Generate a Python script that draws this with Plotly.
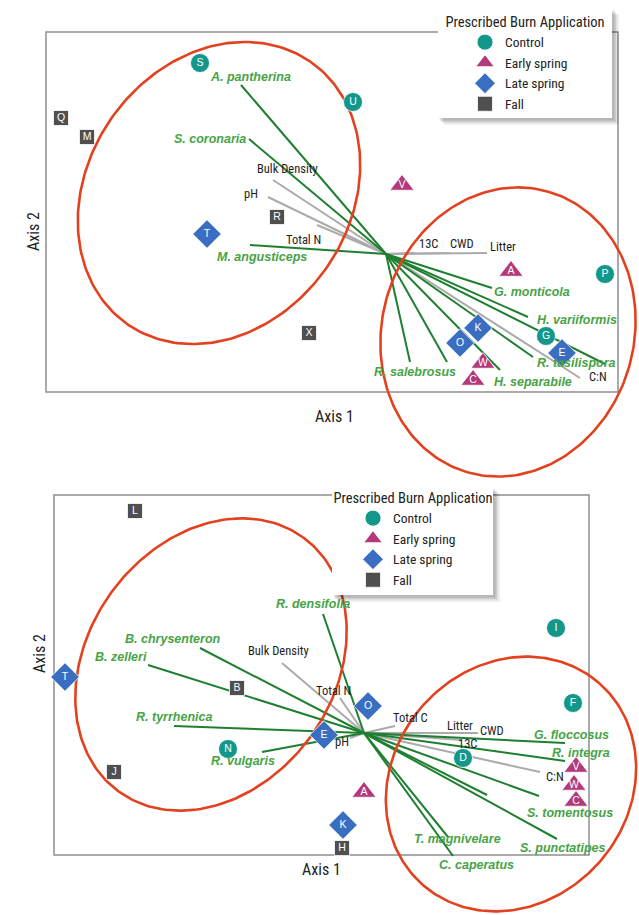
import numpy as np
import plotly.graph_objects as go

# ---------------- DATA (ordination scores, arbitrary axis units) ----------------
TREATMENTS = ["Control", "Early spring", "Late spring", "Fall"]

# Top biplot: site scores
top_sites = ["S", "U", "P", "G", "V", "A", "W", "C", "T", "K", "O", "E", "Q", "M", "R", "X"]
top_treat = ["Control"] * 4 + ["Early spring"] * 4 + ["Late spring"] * 4 + ["Fall"] * 4
top_x = [-1.86, -0.33, 2.19, 1.60, 0.16, 1.25, 0.97, 0.87, -1.79, 0.92, 0.74, 1.76, -3.25, -2.99, -1.09, -0.77]
top_y = [1.91, 1.52, -0.20, -0.82, 0.69, -0.17, -1.09, -1.26, 0.20, -0.74, -0.89, -0.99, 1.36, 1.17, 0.37, -0.79]

# Top biplot: species vectors
top_sp_names = ["A. pantherina", "S. coronaria", "M. angusticeps", "G. monticola", "H. variiformis", "",
                "R. tasilispora", "H. separabile", "R. salebrosus", ""]
top_sp_x = [-1.45, -1.37, -1.36, 1.06, 1.42, 2.19, 1.47, 1.14, 0.61, 0.24]
top_sp_y = [1.69, 1.15, 0.09, -0.34, -0.63, -1.10, -1.03, -1.16, -1.08, -1.08]

# Top biplot: environmental vectors
top_env_names = ["Bulk Density", "pH", "Total N", "13C", "CWD", "Litter", "C:N"]
top_env_x = [-1.13, -1.18, -0.69, 0.29, 0.64, 1.01, 1.94]
top_env_y = [0.74, 0.57, 0.29, 0.01, 0.01, 0.01, -1.24]

# Top biplot: group ellipses (center x, center y, semi-axis a, semi-axis b, angle deg)
top_ell_cx = [-1.67, 1.22]
top_ell_cy = [0.61, -0.78]
top_ell_a = [1.60, 1.46]
top_ell_b = [1.31, 1.26]
top_ell_ang = [55, 74]

# Bottom biplot: site scores
bot_sites = ["I", "F", "N", "D", "A", "V", "W", "C", "T", "O", "E", "K", "L", "B", "J", "H"]
bot_treat = ["Control"] * 4 + ["Early spring"] * 4 + ["Late spring"] * 4 + ["Fall"] * 4
bot_x = [1.92, 2.09, -1.36, 0.99, 0.00, 2.12, 2.10, 2.12, -2.99, 0.04, -0.40, -0.21, -2.29, -1.27, -2.50, -0.22]
bot_y = [1.05, 0.30, -0.16, -0.25, -0.59, -0.34, -0.52, -0.68, 0.56, 0.27, -0.02, -0.92, 2.22, 0.45, -0.39, -1.15]

# Bottom biplot: species vectors
bot_sp_names = ["R. densifolia", "B. chrysenteron", "B. zelleri", "R. tyrrhenica", "R. vulgaris", "G. floccosus",
                "R. integra", "S. tomentosus", "", "S. punctatipes", "T. magnivelare", "C. caperatus"]
bot_sp_x = [-0.41, -1.64, -2.16, -1.90, -1.02, 2.01, 2.01, 1.75, 1.23, 1.93, 0.84, 0.89]
bot_sp_y = [1.19, 0.85, 0.68, 0.07, -0.19, -0.10, -0.28, -0.63, -0.62, -1.06, -1.04, -1.23]

# Bottom biplot: environmental vectors
bot_env_names = ["Bulk Density", "Total N", "Total C", "pH", "Litter", "CWD", "13C", "C:N"]
bot_env_x = [-0.82, -0.24, 0.31, -0.14, 1.05, 1.14, 0.98, 1.76]
bot_env_y = [0.70, 0.35, 0.07, -0.05, 0.00, 0.00, -0.07, -0.39]

# Bottom biplot: group ellipses
bot_ell_cx = [-1.53, 1.47]
bot_ell_cy = [0.685, -0.51]
bot_ell_a = [1.57, 1.34]
bot_ell_b = [1.23, 1.18]
bot_ell_ang = [54, 49]

# ---------------- LABEL PLACEMENT (layout, not data) ----------------
top_sp_lab = {  # name: (x, y, xanchor)
    "A. pantherina": (-1.36, 1.77, "center"), "S. coronaria": (-1.38, 1.15, "right"),
    "M. angusticeps": (-1.71, -0.03, "left"), "G. monticola": (1.06, -0.38, "left"),
    "H. variiformis": (1.49, -0.66, "left"), "R. tasilispora": (1.49, -1.09, "left"),
    "H. separabile": (1.06, -1.28, "left"), "R. salebrosus": (-0.14, -1.18, "left"),
}
top_env_lab = {
    "Bulk Density": (-0.99, 0.86, "center"), "pH": (-1.26, 0.61, "right"), "Total N": (-0.83, 0.15, "center"),
    "13C": (0.42, 0.11, "center"), "CWD": (0.76, 0.11, "center"), "Litter": (1.02, 0.08, "left"),
    "C:N": (2.01, -1.22, "left"),
}
bot_sp_lab = {
    "R. densifolia": (-0.51, 1.29, "center"), "B. chrysenteron": (-1.91, 0.94, "center"),
    "B. zelleri": (-2.43, 0.76, "center"), "R. tyrrhenica": (-1.90, 0.16, "center"),
    "R. vulgaris": (-1.21, -0.28, "center"), "G. floccosus": (1.68, -0.02, "left"),
    "R. integra": (1.86, -0.20, "left"), "S. tomentosus": (1.61, -0.80, "left"),
    "S. punctatipes": (1.54, -1.15, "left"), "T. magnivelare": (0.48, -1.06, "left"),
    "C. caperatus": (0.73, -1.32, "left"),
}
bot_env_lab = {
    "Bulk Density": (-0.86, 0.83, "center"), "Total N": (-0.31, 0.43, "center"), "Total C": (0.46, 0.16, "center"),
    "pH": (-0.22, -0.08, "center"), "Litter": (0.96, 0.08, "center"), "CWD": (1.28, 0.03, "center"),
    "13C": (1.03, -0.10, "center"), "C:N": (1.80, -0.43, "left"),
}
top_box = (-3.40, 2.32, -1.38, 2.22)
bot_box = (-3.10, 2.25, -1.22, 2.38)

# ---------------- STYLE ----------------
W, H = 639, 915
COND = "Liberation Sans Narrow, Roboto Condensed, DejaVu Sans Condensed, Arial Narrow, sans-serif"
SANS = "Liberation Sans, Arial, sans-serif"
MARK = {
    "Control": dict(symbol="circle", color="#13978b", size=19),
    "Early spring": dict(symbol="triangle-up", color="#b23a7b", size=21),
    "Late spring": dict(symbol="diamond", color="#3a6ec0", size=22),
    "Fall": dict(symbol="square", color="#4f4f4f", size=15),
}
GREEN_LINE = "#1f7f30"
GREEN_TEXT = "#47a346"
GRAY_LINE = "#ababab"
RED = "#e2421f"

fig = go.Figure()


def vec_xy(xs, ys):
    lx, ly = [], []
    for x, y in zip(xs, ys):
        lx += [0, x, None]
        ly += [0, y, None]
    return lx, ly


def ellipse(cx, cy, a, b, ang):
    t = np.linspace(0, 2 * np.pi, 240)
    th = np.deg2rad(ang)
    x = cx + a * np.cos(th) * np.cos(t) - b * np.sin(th) * np.sin(t)
    y = cy + a * np.sin(th) * np.cos(t) + b * np.cos(th) * np.sin(t)
    return x, y


def add_panel(xa, ya, legend_id, sites, treat, sx, sy, spx, spy, envx, envy,
              ecx, ecy, ea, eb, eang, box, sp_names, sp_lab, env_names, env_lab):
    axr = dict(xaxis=xa, yaxis=ya)
    yref = ya
    # box
    fig.add_shape(type="rect", xref=xa, yref=yref, x0=box[0], x1=box[1], y0=box[2], y1=box[3],
                  line=dict(color="#8f8f8f", width=1.5), layer="below")
    # env vectors
    gx, gy = vec_xy(envx, envy)
    fig.add_trace(go.Scatter(x=gx, y=gy, mode="lines", line=dict(color=GRAY_LINE, width=2),
                             showlegend=False, hoverinfo="skip", **axr))
    # species vectors
    vx, vy = vec_xy(spx, spy)
    fig.add_trace(go.Scatter(x=vx, y=vy, mode="lines", line=dict(color=GREEN_LINE, width=2),
                             showlegend=False, hoverinfo="skip", **axr))
    # ellipses
    for i in range(len(ecx)):
        ex, ey = ellipse(ecx[i], ecy[i], ea[i], eb[i], eang[i])
        fig.add_trace(go.Scatter(x=ex, y=ey, mode="lines", line=dict(color=RED, width=2.6),
                                 showlegend=False, hoverinfo="skip", **axr))
    # sites
    for tr in TREATMENTS:
        idx = [i for i, t in enumerate(treat) if t == tr]
        m = MARK[tr]
        fig.add_trace(go.Scatter(
            x=[sx[i] for i in idx], y=[sy[i] for i in idx], mode="markers", name=tr, legend=legend_id,
            marker=dict(symbol=m["symbol"], color=m["color"], size=m["size"], line=dict(color="white", width=0.8)),
            **axr))
        fig.add_trace(go.Scatter(
            x=[sx[i] for i in idx], y=[sy[i] for i in idx], mode="text", text=[sites[i] for i in idx],
            textfont=dict(color="white", size=10.5, family=SANS), showlegend=False, hoverinfo="skip", **axr))
    for n in sp_names:
        if not n:
            continue
        lx, ly, anc = sp_lab[n]
        fig.add_annotation(x=lx, y=ly, xref=xa, yref=yref, text="<b><i>" + n + "</i></b>", showarrow=False,
                           xanchor=anc, yanchor="middle", font=dict(family=SANS, size=12.5, color=GREEN_TEXT))
    for n in env_names:
        lx, ly, anc = env_lab[n]
        fig.add_annotation(x=lx, y=ly, xref=xa, yref=yref, text=n, showarrow=False,
                           xanchor=anc, yanchor="middle", font=dict(family=COND, size=12.5, color="#1e1e1e"))


add_panel("x", "y", "legend", top_sites, top_treat, top_x, top_y, top_sp_x, top_sp_y, top_env_x, top_env_y,
          top_ell_cx, top_ell_cy, top_ell_a, top_ell_b, top_ell_ang, top_box,
          top_sp_names, top_sp_lab, top_env_names, top_env_lab)
add_panel("x2", "y2", "legend2", bot_sites, bot_treat, bot_x, bot_y, bot_sp_x, bot_sp_y, bot_env_x, bot_env_y,
          bot_ell_cx, bot_ell_cy, bot_ell_a, bot_ell_b, bot_ell_ang, bot_box,
          bot_sp_names, bot_sp_lab, bot_env_names, bot_env_lab)

# axis titles
for (px, py, txt, ang) in [(334, 416, "Axis 1", 0), (22, 210, "Axis 2", -90),
                           (322, 881, "Axis 1", 0), (28, 675, "Axis 2", -90)]:
    fig.add_annotation(x=px / W, y=1 - py / H, xref="paper", yref="paper", text=txt, showarrow=False,
                       textangle=ang, font=dict(family=COND, size=16, color="#222"))

# legend panels: soft drop shadow + white card (legend itself is drawn transparent on top)
for (x0, y0, x1, y1) in [(438, 8, 612, 118), (332, 487, 493, 595)]:
    for k, op in [(7, 0.05), (5.5, 0.07), (4, 0.09), (2.5, 0.10)]:
        fig.add_shape(type="rect", xref="paper", yref="paper", x0=(x0 + k - 1) / W, x1=(x1 + k) / W,
                      y0=1 - (y1 + k) / H, y1=1 - (y0 + k) / H, line=dict(width=0),
                      fillcolor="rgba(0,0,0,%.2f)" % op, layer="above")
    fig.add_shape(type="rect", xref="paper", yref="paper", x0=x0 / W, x1=x1 / W,
                  y0=1 - y1 / H, y1=1 - y0 / H, line=dict(width=0), fillcolor="white", layer="above")

leg_common = dict(bgcolor="rgba(0,0,0,0)", borderwidth=0, xanchor="center", yanchor="top",
                  font=dict(family=COND, size=13.5, color="#222"), tracegroupgap=0, itemsizing="trace",
                  indentation=22)
fig.update_layout(
    width=W, height=H, margin=dict(l=0, r=0, t=0, b=0),
    paper_bgcolor="white", plot_bgcolor="rgba(0,0,0,0)", template="none",
    xaxis=dict(domain=[0, 1], range=[-3.86, 2.53], visible=False, anchor="y"),
    yaxis=dict(domain=[1 - 490 / H, 1], range=[-2.36, 2.54], visible=False, anchor="x"),
    xaxis2=dict(domain=[0, 1], range=[-3.64, 2.75], visible=False, anchor="y2"),
    yaxis2=dict(domain=[0, 1 - 470 / H], range=[-1.82, 2.63], visible=False, anchor="x2"),
    legend=dict(x=525 / W, y=1 - 8 / H,
                title=dict(text="Prescribed Burn Application", side="top center",
                           font=dict(family=COND, size=14.5, color="#222")), **leg_common),
    legend2=dict(x=413 / W, y=1 - 484 / H,
                 title=dict(text="Prescribed Burn Application", side="top center",
                            font=dict(family=COND, size=14.5, color="#222")), **leg_common),
    showlegend=True,
)

fig.write_html("out.html", config={"displayModeBar": False},
               post_script="document.body.style.margin='0';document.body.style.overflow='hidden';")
